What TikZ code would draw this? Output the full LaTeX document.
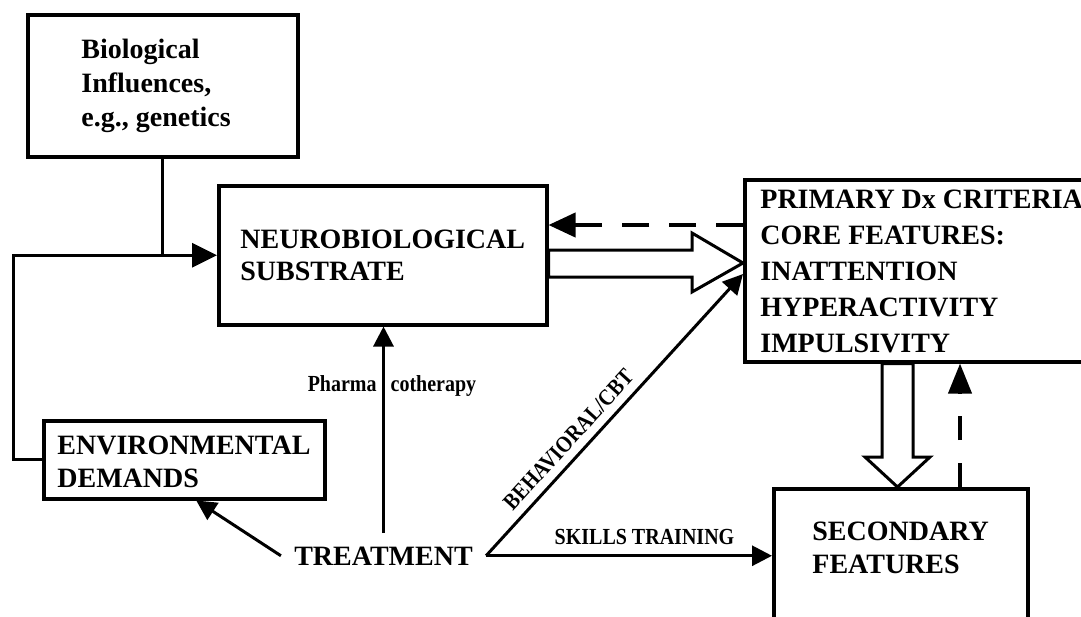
\documentclass[tikz,border=0pt]{standalone}
\usepackage{fontspec}
\setmainfont{Liberation Serif}
\newfontfamily\labelfont[FakeStretch=0.87]{Liberation Serif}
\usetikzlibrary{arrows.meta,calc}
\begin{document}
\begin{tikzpicture}[x=0.5pt,y=-0.5pt,
  box/.style={draw, line width=1.75pt, rectangle, inner sep=0pt, anchor=north west},
  txt/.style={font=\bfseries\fontsize{14}{17}\selectfont, align=left, inner sep=0pt, anchor=base west},
  small/.style={font=\labelfont\bfseries\fontsize{11.5}{13}\selectfont},
  conn/.style={line width=1.5pt},
  tip/.style={-{Triangle[length=10pt,width=10pt]}},
  bigtip/.style={-{Triangle[length=12.5pt,width=12pt]}},
  hollow/.style={draw, line width=1.5pt, fill=white, line join=miter},
  dashline/.style={line width=2pt},
]
\useasboundingbox (0,0) rectangle (1081,616);
\fill[white] (0,0) rectangle (1081,616);

% boxes
\node[box, minimum width=135pt, minimum height=71pt] (bio) at (26,13) {};
\node[box, minimum width=164pt, minimum height=69.5pt] (neuro) at (217,184) {};
\node[box, minimum width=178.5pt, minimum height=91pt] (prim) at (743,178) {};
\node[box, minimum width=140.5pt, minimum height=39pt] (env) at (42,419) {};
\node[box, minimum width=127pt, minimum height=81.5pt] (sec) at (772,487) {};

% box texts (anchor = baseline of the last line)
\node[txt] (biotxt) at (81,126) {Biological\\Influences,\\e.g., genetics};
\node[txt, font=\bfseries\fontsize{14}{16}\selectfont] (neurotxt) at (240,280) {NEUROBIOLOGICAL\\SUBSTRATE};
\node[txt, font=\bfseries\fontsize{14}{18}\selectfont] (primtxt) at (760,352) {PRIMARY Dx CRITERIA\\CORE FEATURES:\\INATTENTION\\HYPERACTIVITY\\IMPULSIVITY};
\node[txt, font=\bfseries\fontsize{14}{16.5}\selectfont] (envtxt) at (57,487) {ENVIRONMENTAL\\DEMANDS};
\node[txt, font=\bfseries\fontsize{14}{16.5}\selectfont] (sectxt) at (812,573) {SECONDARY\\FEATURES};

\node[font=\bfseries\fontsize{14}{17}\selectfont, inner sep=6.5pt, anchor=base] (treat) at (383.5,565) {TREATMENT};

% biological influences and environmental loop
\draw[conn] (bio.south) -- (bio.south |- neuro.west);
\draw[conn, bigtip] (env.west) -- ++(-29,0) |- (neuro.west);

% dashed feedback to neurobiological substrate
\draw[dashline, dash pattern=on 13.5pt off 10pt, -{Triangle[length=13.5pt,width=12pt]}]
  (prim.west |- 0,225) -- (neuro.east |- 0,225);

% hollow arrow neuro -> primary
\draw[hollow] (neuro.east |- 0,250) -- (692,250) -- (692,233) -- (prim.west |- 0,263)
  -- (692,292) -- (692,277) -- (neuro.east |- 0,277) -- cycle;

% hollow arrow primary -> secondary
\draw[hollow] (prim.south -| 882,0) -- (882,457) -- (865,457) -- (sec.north -| 897.5,0)
  -- (930,457) -- (913,457) -- (prim.south -| 913,0) -- cycle;

% dashed feedback secondary -> primary
\draw[dashline, dash pattern=on 12pt off 11.5pt, -{Triangle[length=15pt,width=11.5pt]}]
  (sec.north -| 960,0) -- (prim.south -| 960,0);

% treatment arrows
\draw[conn, tip] (treat.north) -- (treat.north |- neuro.south);
\node[small, anchor=base] (pharm) at (392,391) {Pharma\kern7pt cotherapy};
\draw[conn, tip] (treat.west) -- ($(env.south)+(12,0)$);
\draw[conn, tip] (treat.east) -- node[small, sloped, above, pos=0.37, inner sep=4pt] (behlbl) {BEHAVIORAL/CBT} (prim.west |- 0,274);
\draw[conn, tip] (treat.east) -- node[small, above, pos=0.554, inner sep=5pt] (skilllbl) {SKILLS TRAINING} (sec.west |- treat.east);
\end{tikzpicture}
\end{document}
